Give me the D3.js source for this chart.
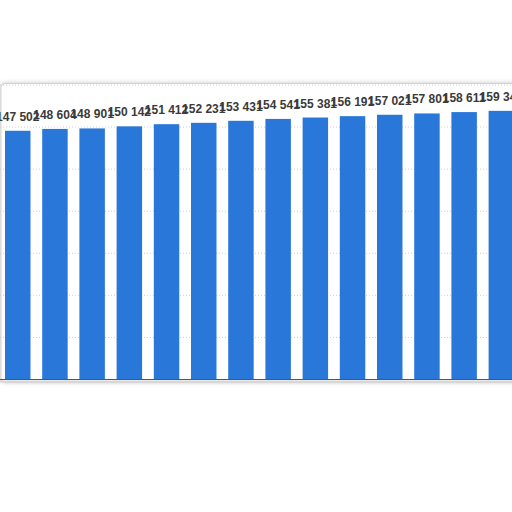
<!DOCTYPE html>
<html>
<head>
<meta charset="utf-8">
<script src="https://cdn.jsdelivr.net/npm/d3@7"></script>
<style>
  body { margin: 0; background: #fff; }
  svg { display: block; }
</style>
</head>
<body>
<svg id="chart" width="512" height="512"></svg>
<script>
// values (last digit of each label is hidden by the next one, guessed)
var years = ["2008","2009","2010","2011","2012","2013","2014","2015","2016","2017","2018","2019","2020","2021"];
var values = [147502, 148604, 148901, 150142, 151412, 152231, 153431, 154541, 155381, 156191, 157021, 157801, 158611, 159341];
var yTicks = [0, 25000, 50000, 75000, 100000, 125000, 150000, 175000];

var svg = d3.select("#chart");
var top0 = 84.5, base = 379;

var defs = svg.append("defs");
var f = defs.append("filter").attr("id", "shadow")
  .attr("x", "-10%").attr("y", "-10%").attr("width", "120%").attr("height", "120%");
f.append("feDropShadow").attr("dx", 0).attr("dy", 0).attr("stdDeviation", 2)
  .attr("flood-color", "#999").attr("flood-opacity", 0.6);

// card behind the plot
svg.append("rect")
  .attr("x", 1).attr("y", top0 - 1).attr("width", 530).attr("height", base - top0 + 4)
  .attr("rx", 4)
  .attr("fill", "#fff").attr("stroke", "#d4d4d4")
  .attr("filter", "url(#shadow)");

var x = d3.scaleBand().domain(years)
  .range([-0.86, 519.94])
  .paddingInner(0.315).paddingOuter(0.1575);

var y = d3.scaleLinear().domain([0, 175000]).range([base, top0]);

// dotted grid
var grid = svg.append("g")
  .call(d3.axisLeft(y).tickValues(yTicks).tickSize(-540).tickFormat(""));
grid.select(".domain").remove();
grid.selectAll("line").attr("stroke", "#cfcfcf").attr("stroke-dasharray", "1,2");

svg.append("g").selectAll("rect")
  .data(values)
  .enter().append("rect")
  .attr("x", function(d, i) { return x(years[i]); })
  .attr("y", function(d) { return y(d); })
  .attr("width", x.bandwidth())
  .attr("height", function(d) { return base - y(d); })
  .attr("fill", "#2a77da");

// baseline
svg.append("line").attr("x1", -10).attr("x2", 522).attr("y1", base + 0.5).attr("y2", base + 0.5)
  .attr("stroke", "#555").attr("stroke-width", 1);
svg.append("line").attr("x1", -10).attr("x2", 522).attr("y1", base + 2.5).attr("y2", base + 2.5)
  .attr("stroke", "#d6d6d6").attr("stroke-width", 2);

var fmt = function(v) { return d3.format(",")(v).replace(/,/g, " "); };

svg.append("g").selectAll("text")
  .data(values)
  .enter().append("text")
  .attr("x", function(d, i) { return x(years[i]) + x.bandwidth() / 2; })
  .attr("y", function(d) { return y(d) - 10; })
  .attr("text-anchor", "middle")
  .style("font-family", "'Liberation Sans', Arial, sans-serif")
  .style("font-weight", "bold")
  .style("font-size", "12px")
  .style("fill", "#3a3a3a")
  .text(function(d) { return fmt(d); });
</script>
</body>
</html>
